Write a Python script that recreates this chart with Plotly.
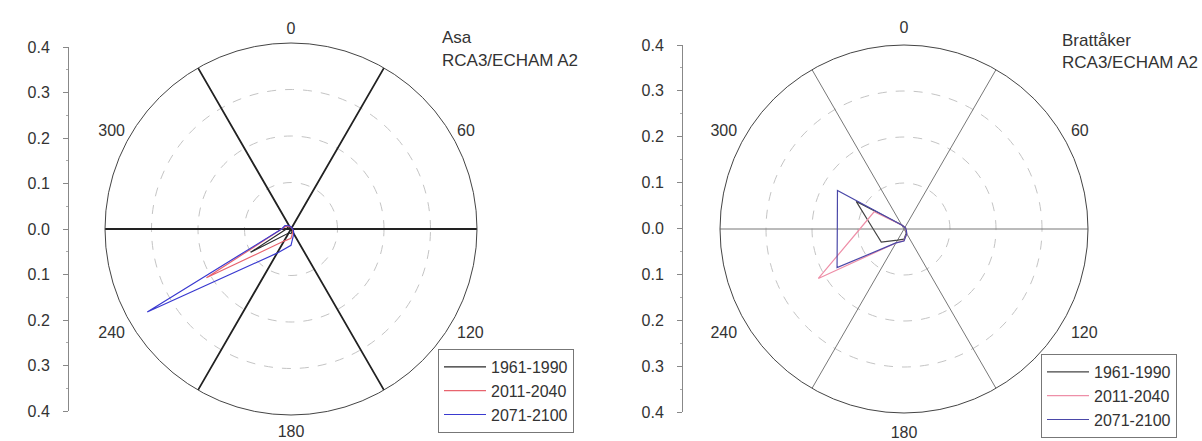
import plotly.graph_objects as go

# ---- data ----
directions = [0, 30, 60, 90, 120, 150, 180, 210, 240, 270, 300, 330]
periods = ["1961-1990", "2011-2040", "2071-2100"]

asa_1961 = [0.004, 0.003, 0.003, 0.003, 0.004, 0.006, 0.010, 0.010, 0.100, 0.010, 0.008, 0.005]
asa_2011 = [0.004, 0.003, 0.003, 0.003, 0.004, 0.008, 0.020, 0.030, 0.210, 0.020, 0.012, 0.006]
asa_2071 = [0.005, 0.003, 0.003, 0.004, 0.006, 0.012, 0.035, 0.060, 0.357, 0.020, 0.015, 0.008]

bra_1961 = [0.005, 0.004, 0.004, 0.004, 0.005, 0.010, 0.022, 0.028, 0.057, 0.067, 0.120, 0.010]
bra_2011 = [0.005, 0.004, 0.004, 0.004, 0.005, 0.012, 0.025, 0.035, 0.215, 0.096, 0.075, 0.010]
bra_2071 = [0.005, 0.004, 0.004, 0.004, 0.006, 0.012, 0.026, 0.035, 0.168, 0.145, 0.167, 0.010]

angular_ticks = [0, 60, 120, 180, 240, 300]
spoke_angles = [30, 90, 150]
radial_grid = [0.1, 0.2, 0.3, 0.4]
y_ticks = [-0.4, -0.3, -0.2, -0.1, 0.0, 0.1, 0.2, 0.3, 0.4]
y_ticktext = ["0.4", "0.3", "0.2", "0.1", "0.0", "0.1", "0.2", "0.3", "0.4"]

sites = [
    ("polar", "legend", [asa_1961, asa_2011, asa_2071], "#222222", 1.8),
    ("polar2", "legend2", [bra_1961, bra_2011, bra_2071], "#777777", 1.0),
]
colors = ["#2a2a2a", "#e8646e", "#3a3ad0"]
colors_right = ["#444444", "#ee8fa8", "#4a48a8"]

W, H = 1202, 441
FONT = "Arial, 'Liberation Sans', sans-serif"
TXT = "#333333"

fig = go.Figure()

for i, (sp, lg, series, spoke_col, spoke_w) in enumerate(sites):
    # spokes (grid lines through centre)
    for a in spoke_angles:
        fig.add_trace(go.Scatterpolar(
            r=[radial_grid[-1], 0, radial_grid[-1]], theta=[a, a, a + 180],
            mode="lines", line=dict(color=spoke_col, width=spoke_w),
            subplot=sp, showlegend=False, hoverinfo="skip"))
    cols = colors if i == 0 else colors_right
    for p, vals, c in zip(periods, series, cols):
        fig.add_trace(go.Scatterpolar(
            r=vals + [vals[0]], theta=directions + [directions[0]],
            mode="lines", line=dict(color=c, width=1.2),
            name=p, subplot=sp, legend=lg))

# helper traces so the left-hand cartesian scales are drawn
fig.add_trace(go.Scatter(x=[0], y=[0], xaxis="x", yaxis="y", mode="markers",
                         marker=dict(opacity=0), showlegend=False, hoverinfo="skip"))
fig.add_trace(go.Scatter(x=[0], y=[0], xaxis="x2", yaxis="y2", mode="markers",
                         marker=dict(opacity=0), showlegend=False, hoverinfo="skip"))

def polar_layout(xd, yd, tlen):
    return dict(
        domain=dict(x=xd, y=yd),
        bgcolor="white",
        radialaxis=dict(range=[0, 0.4], tickvals=radial_grid, showticklabels=False,
                        ticks="", showline=False, gridcolor="#c4c4c4", griddash="dash",
                        gridwidth=1),
        angularaxis=dict(rotation=90, direction="clockwise", tickvals=angular_ticks,
                         ticktext=[str(a) for a in angular_ticks], showgrid=False,
                         ticks="outside", ticklen=tlen, tickcolor="rgba(0,0,0,0)",
                         showline=True, linecolor="#444444", linewidth=1,
                         tickfont=dict(family=FONT, size=16, color=TXT)),
    )

def yaxis_layout(pos, yd):
    return dict(domain=yd, range=[-0.4, 0.4], tickvals=y_ticks, ticktext=y_ticktext,
                anchor="free", position=pos, showline=True, linecolor="#888888",
                ticks="outside", ticklen=5, tickcolor="#888888", showgrid=False,
                zeroline=False, automargin=False, ticklabelstandoff=10,
                tickfont=dict(family=FONT, size=16, color=TXT),
                minor=dict(ticks="outside", ticklen=2, tick0=0, dtick=0.05,
                           tickcolor="#aaaaaa"))

leg_common = dict(bgcolor="white", bordercolor="#777777", borderwidth=1,
                  font=dict(family=FONT, size=16, color=TXT), xanchor="left",
                  yanchor="bottom", tracegroupgap=0, itemwidth=42)

fig.update_layout(
    width=W, height=H,
    margin=dict(l=0, r=0, t=0, b=0, autoexpand=False),
    paper_bgcolor="white", plot_bgcolor="rgba(0,0,0,0)",
    font=dict(family=FONT, color=TXT),
    polar=polar_layout([105 / W, 477 / W], [26 / H, 398 / H], 2),
    polar2=polar_layout([720 / W, 1088 / W], [28 / H, 396 / H], 5),
    xaxis=dict(domain=[0, 0.01], visible=False, range=[-1, 1]),
    xaxis2=dict(domain=[0.5, 0.51], visible=False, range=[-1, 1]),
    yaxis=yaxis_layout(68 / W, [(H - 411) / H, (H - 47) / H]),
    yaxis2=yaxis_layout(682 / W, [(H - 412) / H, (H - 45) / H]),
    legend=dict(x=438 / W, y=1 - 433 / H, **leg_common),
    legend2=dict(x=1041 / W, y=1 - 438 / H, **leg_common),
    showlegend=True,
)

titles = [("Asa", 440, 37), ("RCA3/ECHAM A2", 440, 60),
          ("Brattåker", 1060, 40), ("RCA3/ECHAM A2", 1060, 62)]
for t, x, y in titles:
    fig.add_annotation(text=t, x=x / W, y=1 - y / H, xref="paper", yref="paper",
                       xanchor="left", yanchor="middle", showarrow=False,
                       font=dict(family=FONT, size=17, color=TXT))

fig.write_html("out.html")
